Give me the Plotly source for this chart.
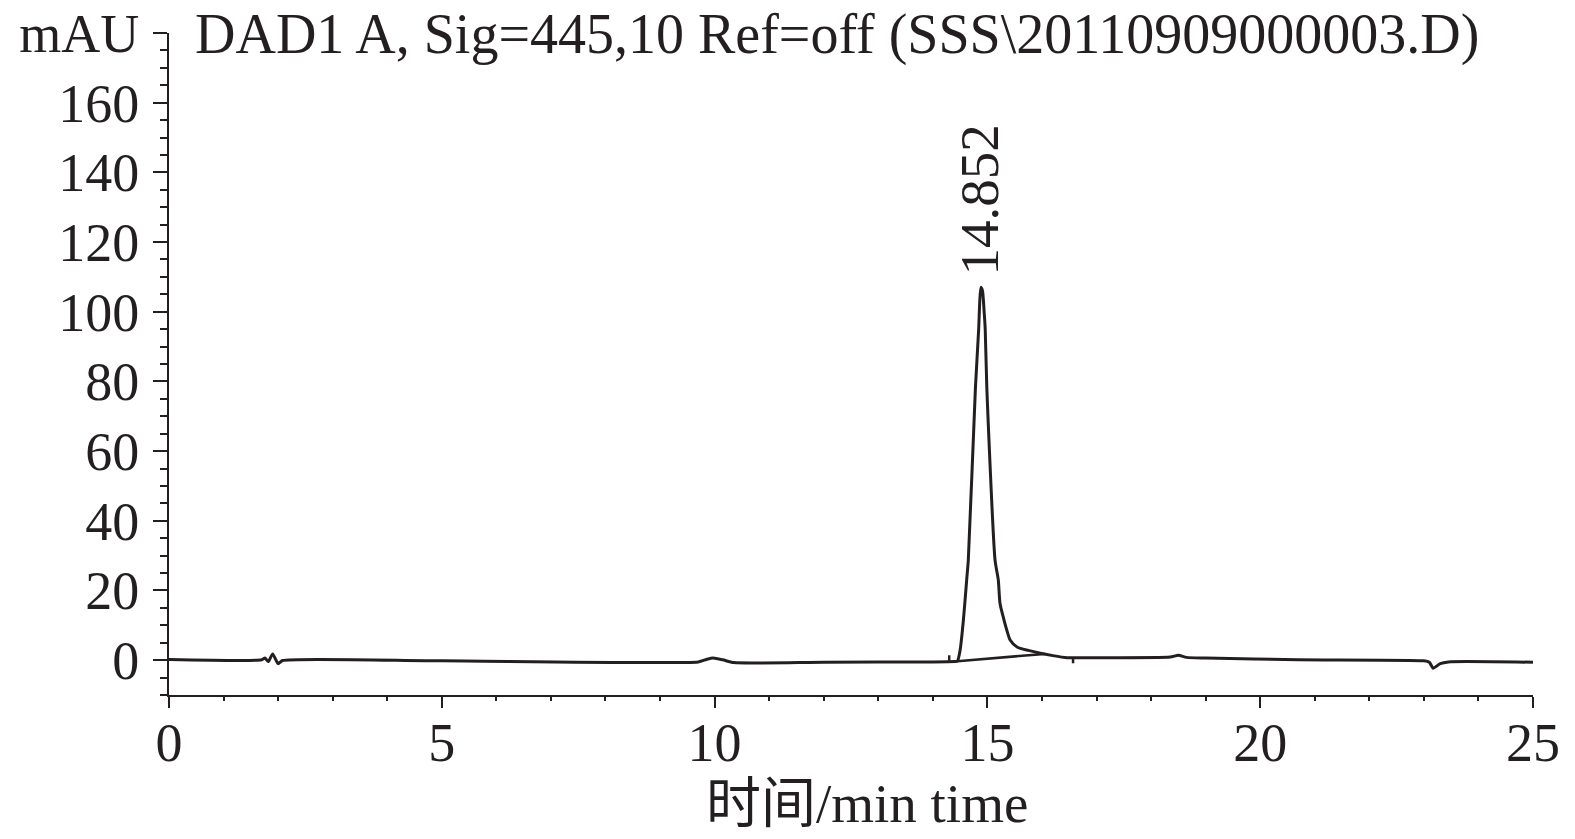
import plotly.graph_objects as go

# chromatogram trace (time in min, signal in mAU)
time_min = [0, 1.7, 1.76, 1.82, 1.9, 2.0, 2.08, 5, 9.7, 9.85, 9.97, 10.15, 10.35, 12, 14.0, 14.4,
            14.45, 14.5, 14.56, 14.62, 14.65, 14.78, 14.84, 14.86, 14.88, 14.91, 14.94, 14.96, 14.99,
            15.14, 15.2, 15.23, 15.29, 15.42, 15.55, 15.75, 15.97, 16.2, 16.46, 17, 18.35, 18.5,
            18.65, 19, 20.7, 23.0, 23.1, 23.17, 23.3, 23.45, 25]
signal_mau = [0.2, 0.1, 0.6, -0.4, 1.8, -1.0, -0.1, -0.2, -0.5, 0.2, 0.6, 0.1, -0.7, -0.6, -0.5, -0.4,
              -0.3, 2.9, 11.5, 23, 28.7, 78, 95, 103, 107, 106, 100, 95, 78,
              28.7, 23, 16.4, 12.4, 5.7, 3.7, 2.8, 2.0, 1.3, 0.7, 0.7, 0.9, 1.4,
              0.8, 0.6, 0.1, -0.2, -0.6, -2.3, -1.0, -0.5, -0.6]

# integration baseline
base_t = [14.45, 16.05]
base_v = [-0.3, 1.8]

# peak start / end event marks
event_t = [14.30, 14.30, None, 16.57, 16.57]
event_v = [-0.2, 1.4, None, 0.7, -0.9]

peak_rt = 14.852
peak_label = "14.852"
peak_height = 107.5

x_ticks = [0, 5, 10, 15, 20, 25]
y_tickvals = [0, 20, 40, 60, 80, 100, 120, 140, 160, 180]
y_ticktext = ["0", "20", "40", "60", "80", "100", "120", "140", "160", "mAU"]

title_text = "DAD1 A, Sig=445,10 Ref=off (SSS\\20110909000003.D)"
xlabel_text = "时间/min time"

line_color = "#231f20"
serif = "Liberation Serif, Noto Sans CJK SC, serif"

fig = go.Figure()
fig.add_trace(go.Scatter(x=time_min, y=signal_mau, mode="lines", line_shape="spline",
                         line=dict(color=line_color, width=3, smoothing=0.6), showlegend=False))
fig.add_trace(go.Scatter(x=base_t, y=base_v, mode="lines",
                         line=dict(color=line_color, width=2.5), showlegend=False))
fig.add_trace(go.Scatter(x=event_t, y=event_v, mode="lines",
                         line=dict(color=line_color, width=2.5), showlegend=False))

fig.add_annotation(x=peak_rt, y=peak_height, text=peak_label, textangle=-90,
                   showarrow=False, xanchor="center", yanchor="bottom", yshift=8,
                   font=dict(family=serif, size=55, color=line_color))
fig.add_annotation(x=0.44, y=180, text=title_text, showarrow=False,
                   xanchor="left", yanchor="middle", yshift=-1,
                   font=dict(family=serif, size=56, color=line_color))
fig.add_annotation(x=12.8, y=-10, text=xlabel_text, showarrow=False,
                   xanchor="center", yanchor="middle", yshift=-108,
                   font=dict(family=serif, size=55, color=line_color))

fig.update_layout(
    width=1575, height=839,
    margin=dict(l=161, r=50, t=25, b=152, autoexpand=False),
    plot_bgcolor="white", paper_bgcolor="white",
    font=dict(family=serif, size=54, color=line_color),
)
fig.update_xaxes(range=[0, 25], tickvals=x_ticks, showgrid=False, zeroline=False,
                 automargin=False, ticklabeloverflow="allow",
                 showline=True, linecolor=line_color, linewidth=2,
                 ticks="outside", ticklen=11, tickwidth=2, tickcolor=line_color,
                 ticklabelstandoff=-12,
                 minor=dict(dtick=1, tick0=0, ticks="outside", ticklen=4, tickwidth=2,
                            tickcolor=line_color, showgrid=False),
                 tickfont=dict(family=serif, size=54, color=line_color))
fig.update_yaxes(range=[-10, 180], tickvals=y_tickvals, ticktext=y_ticktext,
                 showgrid=False, zeroline=False, automargin=False, ticklabeloverflow="allow",
                 showline=True, linecolor=line_color, linewidth=2,
                 ticks="outside", ticklen=14, tickwidth=2, tickcolor=line_color,
                 ticklabelstandoff=3,
                 minor=dict(dtick=5, tick0=0, ticks="outside", ticklen=7, tickwidth=2,
                            tickcolor=line_color, showgrid=False),
                 tickfont=dict(family=serif, size=54, color=line_color))

fig.write_html("out.html")
